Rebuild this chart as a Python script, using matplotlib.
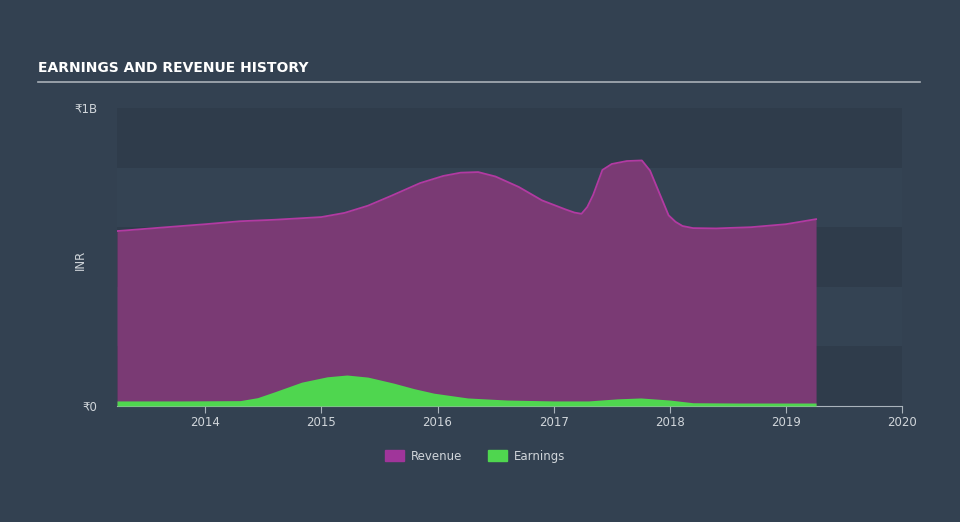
import matplotlib
matplotlib.use("Agg")
import matplotlib.pyplot as plt
from matplotlib.patches import Patch

# revenue history (INR billions)
rev_years = [2013.24, 2013.6, 2014.0, 2014.3, 2014.6, 2015.0, 2015.2, 2015.4, 2015.6,
             2015.85, 2016.05, 2016.2, 2016.35, 2016.5, 2016.7, 2016.9, 2017.1, 2017.18,
             2017.24, 2017.29, 2017.34, 2017.42, 2017.5, 2017.63, 2017.76, 2017.83,
             2017.91, 2017.99, 2018.05, 2018.11, 2018.2, 2018.4, 2018.7, 2019.0, 2019.26]
revenue = [0.587, 0.598, 0.610, 0.620, 0.625, 0.634, 0.648, 0.672, 0.705,
           0.748, 0.772, 0.783, 0.785, 0.770, 0.735, 0.690, 0.660, 0.649,
           0.645, 0.668, 0.708, 0.792, 0.812, 0.822, 0.824, 0.790,
           0.715, 0.640, 0.618, 0.604, 0.597, 0.596, 0.600, 0.610, 0.627]

earn_years = [2013.24, 2013.8, 2014.3, 2014.45, 2014.6, 2014.83, 2015.05, 2015.22, 2015.4,
              2015.62, 2015.8, 2015.97, 2016.26, 2016.6, 2017.0, 2017.3, 2017.55, 2017.75,
              2018.0, 2018.2, 2018.6, 2019.0, 2019.26]
earnings = [0.017, 0.017, 0.018, 0.028, 0.048, 0.080, 0.098, 0.104, 0.097,
            0.077, 0.058, 0.043, 0.027, 0.020, 0.017, 0.017, 0.024, 0.027,
            0.020, 0.011, 0.010, 0.010, 0.010]

x_ticks = [2014, 2015, 2016, 2017, 2018, 2019, 2020]

bg = "#334151"
band = "#2f3c4b"
rev_fill = "#7a3a74"
rev_line = "#b23aa2"
earn_col = "#4fd64f"
txt = "#d0d5da"

fig = plt.figure(figsize=(9.6, 5.22), dpi=100, facecolor=bg)
ax = fig.add_axes([117 / 960, (522 - 406) / 522, (902 - 117) / 960, 298 / 522])
ax.set_facecolor("#344353")

# alternating horizontal bands
for lo in [0.0, 0.4, 0.8]:
    ax.axhspan(lo, lo + 0.2, color=band, lw=0, zorder=0)

ax.fill_between(rev_years, revenue, color=rev_fill, lw=0, zorder=2)
ax.plot(rev_years, revenue, color=rev_line, lw=1.3, zorder=3)
ax.fill_between(earn_years, earnings, color=earn_col, lw=0, zorder=4)

ax.set_xlim(2013.24, 2020)
ax.set_ylim(0, 1.0)
ax.set_xticks(x_ticks)
ax.set_xticklabels([str(t) for t in x_ticks], color=txt, fontsize=8.5)
ax.set_yticks([0, 1.0])
ax.set_yticklabels(["₹0", "₹1B"], color=txt, fontsize=8.5)
ax.tick_params(axis="y", length=0, pad=14)
ax.tick_params(axis="x", length=5, color="#aab3bc", pad=2)
for s in ["top", "right", "left"]:
    ax.spines[s].set_visible(False)
ax.spines["bottom"].set_color("#aab3bc")
ax.set_ylabel("INR", color=txt, fontsize=8.5)
ax.yaxis.set_label_coords(-0.038, 0.49)

# title and underline
fig.text(38 / 960, 1 - 68 / 522, "EARNINGS AND REVENUE HISTORY", color="white",
         fontsize=10, fontweight="bold", family="DejaVu Sans",
         va="center", ha="left")
fig.add_artist(plt.Line2D([38 / 960, 920 / 960], [1 - 82 / 522, 1 - 82 / 522],
                          color="#a9b0b8", lw=1.2))

handles = [Patch(color="#a0359a", label="Revenue"), Patch(color=earn_col, label="Earnings")]
leg = fig.legend(handles=handles, loc="center", bbox_to_anchor=(475 / 960, 1 - 456 / 522),
                 ncol=2, frameon=False, fontsize=8.5, handlelength=1.6, handleheight=1.1,
                 columnspacing=2.2, handletextpad=0.6)
for t in leg.get_texts():
    t.set_color(txt)

fig.savefig("out.png", dpi=100, facecolor=bg)
